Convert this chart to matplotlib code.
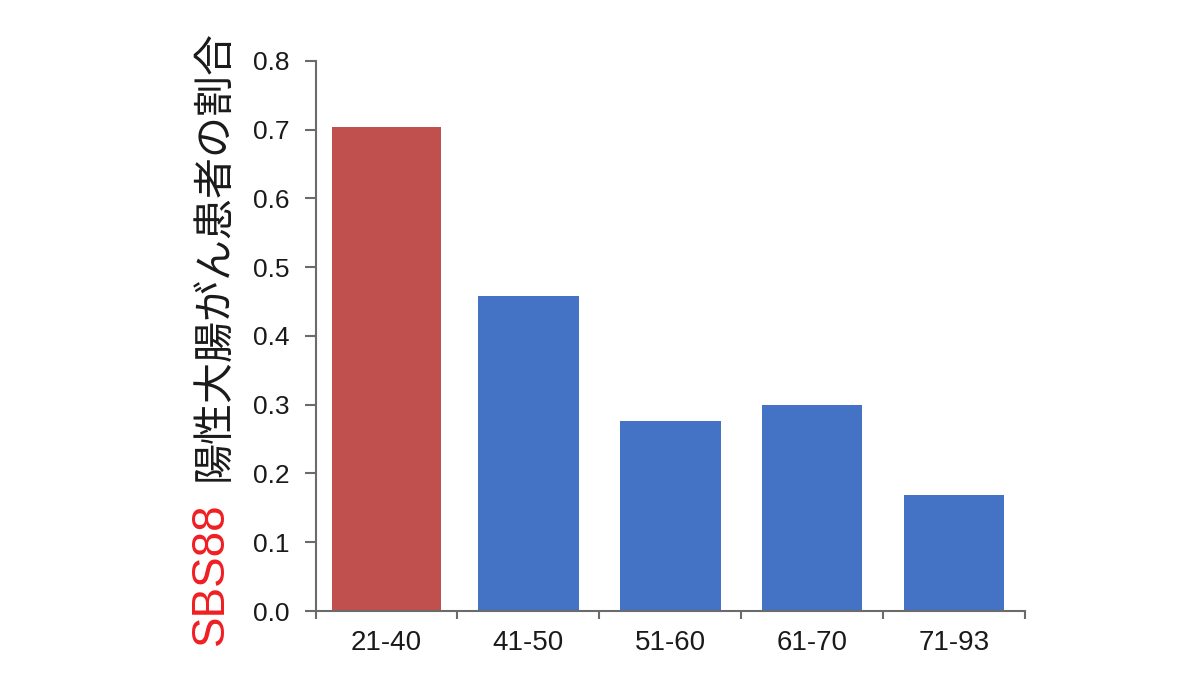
import numpy as np
import matplotlib
matplotlib.use('Agg')
import matplotlib.pyplot as plt
from matplotlib.ticker import FixedLocator

plt.rcParams['font.family'] = ['Liberation Sans', 'Noto Sans CJK JP', 'DejaVu Sans']

# data
age_groups = ['21-40', '41-50', '51-60', '61-70', '71-93']
ratios = [0.704, 0.458, 0.276, 0.300, 0.169]
y_ticks = [0.0, 0.1, 0.2, 0.3, 0.4, 0.5, 0.6, 0.7, 0.8]

bar_colors = ['#C0504D', '#4472C4', '#4472C4', '#4472C4', '#4472C4']
bar_widths = [0.77, 0.71, 0.71, 0.71, 0.71]

fig = plt.figure(figsize=(12, 6.75), dpi=100)
ax = fig.add_axes([0.263, 0.0948, 0.591, 0.815])

x = np.arange(len(age_groups))
ax.bar(x, ratios, width=bar_widths, color=bar_colors, zorder=2)

ax.set_xlim(-0.5, len(age_groups) - 0.5)
ax.set_ylim(0, 0.8)
ax.set_yticks(y_ticks)
ax.set_yticklabels(['%.1f' % t for t in y_ticks])
ax.set_xticks(x)
ax.set_xticklabels(age_groups)
ax.xaxis.set_minor_locator(FixedLocator(np.arange(-0.5, len(age_groups), 1.0)))

spine_col = '#6b6b6b'
for s in ['top', 'right']:
    ax.spines[s].set_visible(False)
for s in ['left', 'bottom']:
    ax.spines[s].set_color(spine_col)
    ax.spines[s].set_linewidth(1.5)

ax.tick_params(axis='y', direction='out', length=8, width=1.5, color=spine_col,
               labelsize=19, labelcolor='#1a1a1a', pad=11)
ax.tick_params(axis='x', which='major', length=0, labelsize=20,
               labelcolor='#1a1a1a', pad=14)
ax.tick_params(axis='x', which='minor', direction='out', length=6, width=1.5,
               color=spine_col)

# y label in two colours
fig.text(0.176, 0.044, 'SBS88', rotation=90, color='#F01E23', fontsize=33,
         ha='center', va='bottom', family=['Liberation Sans', 'DejaVu Sans'])
fig.text(0.178, 0.287, '陽性大腸がん患者の割合', rotation=90, color='#1a1a1a',
         fontsize=29.5, ha='center', va='bottom',
         family=['Noto Sans CJK JP', 'DejaVu Sans'])

fig.savefig('out.png', dpi=100)
